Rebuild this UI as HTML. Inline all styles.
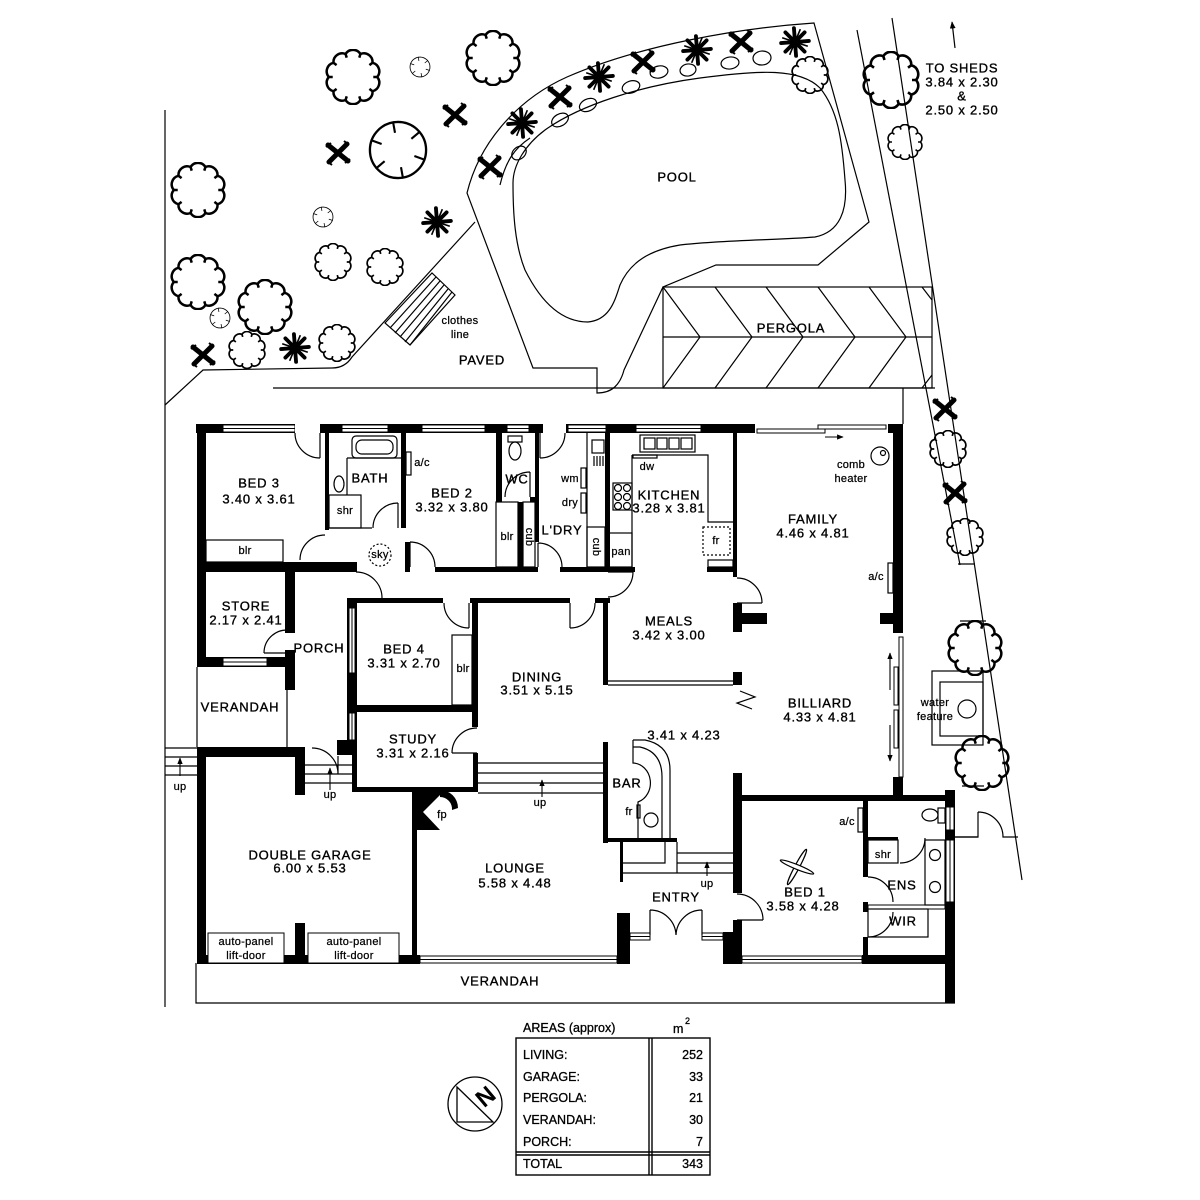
<!DOCTYPE html>
<html><head><meta charset="utf-8">
<style>
html,body{margin:0;padding:0;background:#fff}
svg{display:block}
.t{font-family:"Liberation Sans",sans-serif;font-size:13px;text-anchor:middle;dominant-baseline:central;fill:#000;stroke:#000;stroke-width:.35;letter-spacing:.8px}
.s{font-size:11px;letter-spacing:.3px;stroke-width:.25}
.w{fill:#fff;stroke:#000;stroke-width:1}
.l{fill:none;stroke:#000;stroke-width:1.2}
.tb{font-family:"Liberation Sans",sans-serif;font-size:12.5px;fill:#000;stroke:#000;stroke-width:.3;dominant-baseline:central}
</style></head>
<body>
<svg width="1200" height="1200" viewBox="0 0 1200 1200" xmlns="http://www.w3.org/2000/svg">
<defs>
<symbol id="tr" viewBox="-29 -29 58 58">
<path d="M25,0 A9,9 0 0 1 20.2,14.7 A9,9 0 0 1 7.7,23.8 A9,9 0 0 1 -7.7,23.8 A9,9 0 0 1 -20.2,14.7 A9,9 0 0 1 -25,0 A9,9 0 0 1 -20.2,-14.7 A9,9 0 0 1 -7.7,-23.8 A9,9 0 0 1 7.7,-23.8 A9,9 0 0 1 20.2,-14.7 A9,9 0 0 1 25,0 Z M25,0 L21,0 M20.2,14.7 L17,12.3 M7.7,23.8 L6.5,20 M-7.7,23.8 L-6.5,20 M-20.2,14.7 L-17,12.3 M-25,0 L-21,0 M-20.2,-14.7 L-17,-12.3 M-7.7,-23.8 L-6.5,-20 M7.7,-23.8 L6.5,-20 M20.2,-14.7 L17,-12.3" fill="none" stroke="#000" stroke-width="2.6"/>
</symbol>
<symbol id="nt" viewBox="-32 -32 64 64">
<circle r="29" fill="none" stroke="#000" stroke-width="2.4"/>
<path d="M28.2,10.3 L16.9,6.2 M5.2,29.5 L3.1,17.7 M-23,19.3 L-13.8,11.6 M-28.2,-10.3 L-16.9,-6.2 M-5.2,-29.5 L-3.1,-17.7 M23,-19.3 L13.8,-11.6" stroke="#000" stroke-width="2.2"/>
</symbol>
<symbol id="px" viewBox="-14 -14 28 28">
<path d="M-10,-8 L10,8 M-9,9 L9,-9" stroke="#000" stroke-width="5" stroke-linecap="round"/>
<path d="M-12,-6 L-7,-10 M12,6 L7,10 M-11,8 L-6,12 M11,-8 L6,-12 M-3,-3 L3,3" stroke="#000" stroke-width="2"/>
</symbol>
<symbol id="ps" viewBox="-15 -15 30 30">
<circle r="5" fill="#000"/>
<path d="M0,0 L13,-1 M0,0 L9,9 M0,0 L1,13 M0,0 L-9,9 M0,0 L-13,1 M0,0 L-9,-9 M0,0 L-1,-13 M0,0 L9,-9" stroke="#000" stroke-width="3.6" stroke-linecap="round"/>
<path d="M5,-12 L-5,12 M-12,-4 L12,4" stroke="#000" stroke-width="1.5"/>
</symbol>
<marker id="ah" viewBox="0 0 10 10" refX="9" refY="5" markerWidth="6" markerHeight="6" orient="auto-start-reverse">
<path d="M0,1 L10,5 L0,9 Z" fill="#000"/>
</marker>
</defs>

<rect width="1200" height="1200" fill="#fff"/>

<!-- SITE LINES -->
<g class="l" stroke-width="1.3">
<path d="M165,110 L165,1007"/>
<path d="M165,405 L203,370 L332,368 Q345,368 352,357 L475,222"/>
<path d="M273,388 L935,388"/>
<path d="M903,388 L903,424"/>
<!-- pool surround -->
<path d="M814,23 C740,28 640,45 567,77 C520,98 480,140 467,193 L533,368 L597,368 L597,393 C612,393 620,385 624,370 L663,287 L716,265 L818,265 L869,222 Z"/>
<path d="M500,185 C506,160 515,148 530,138"/>
<!-- pool -->
<path d="M513,183 C513,215 515,245 525,270 C540,300 560,322 588,322 C610,320 615,300 620,285 C630,262 650,250 680,245 C720,240 780,240 815,237 C840,232 848,210 845,180 C842,140 838,110 820,88 C800,68 760,70 700,78 C640,86 580,105 545,130 C525,145 513,165 513,183 Z"/>
<!-- pergola -->
<rect x="663" y="287" width="269" height="101"/>
<path d="M663,337 L932,337"/>
<path d="M663,287 L700,337 L663,388 M715,287 L752,337 L715,388 M766,287 L803,337 L766,388 M818,287 L855,337 L818,388 M869,287 L906,337 L869,388 M922,287 L932,300 M922,388 L932,375"/>
<!-- right boundary -->
<path d="M857,30 L960,565"/>
<path d="M892,18 L1022,880"/>
<path d="M958,564 L975,564 M960,621 L986,621 M962,786 L984,786"/>
<!-- water feature -->
<rect x="932" y="671" width="51" height="74"/>
<rect x="940" y="682" width="43" height="54"/>
<circle cx="967" cy="709" r="9"/>
<!-- clothes line -->
<path d="M385,323 L432,273 L455,295 L410,345 Z"/>
<path d="M390,328 L436,277 M395,333 L440,281 M400,337 L444,285 M405,342 L448,289 M410,345 L452,292"/>
<!-- outside ens door -->
<path d="M955,837 L978,837 L978,812 M978,812 A25,25 0 0 1 1003,837 L1018,837"/>
</g>
<!-- to sheds arrow -->
<line x1="955" y1="48" x2="952" y2="22" stroke="#000" stroke-width="1.2" marker-end="url(#ah)"/>

<!-- planter rocks -->
<g class="l" stroke-width="1">
<ellipse cx="519" cy="153" rx="8" ry="6" transform="rotate(-40 519 153)"/>
<ellipse cx="560" cy="120" rx="9" ry="6" transform="rotate(-30 560 120)"/>
<ellipse cx="588" cy="105" rx="9" ry="6" transform="rotate(-25 588 105)"/>
<ellipse cx="631" cy="87" rx="9" ry="6" transform="rotate(-18 631 87)"/>
<ellipse cx="659" cy="72" rx="9" ry="6" transform="rotate(-12 659 72)"/>
<ellipse cx="688" cy="70" rx="8" ry="6" transform="rotate(-10 688 70)"/>
<ellipse cx="730" cy="63" rx="9" ry="6" transform="rotate(-8 730 63)"/>
<ellipse cx="762" cy="58" rx="9" ry="7" transform="rotate(-6 762 58)"/>
</g>

<!-- TREES -->
<use href="#tr" x="325" y="49" width="56" height="56"/>
<use href="#tr" x="465" y="30" width="56" height="56"/>
<use href="#tr" x="170" y="162" width="56" height="56"/>
<use href="#tr" x="170" y="254" width="56" height="56"/>
<use href="#tr" x="237" y="279" width="56" height="56"/>
<use href="#tr" x="228" y="331" width="38" height="38"/>
<use href="#tr" x="318" y="324" width="38" height="38"/>
<use href="#tr" x="314" y="243" width="38" height="38"/>
<use href="#tr" x="366" y="248" width="38" height="38"/>
<use href="#tr" x="791" y="56" width="38" height="38"/>
<use href="#tr" x="862" y="51" width="58" height="58"/>
<use href="#tr" x="887" y="124" width="36" height="36"/>
<use href="#tr" x="929" y="430" width="38" height="38"/>
<use href="#tr" x="946" y="518" width="38" height="38"/>
<use href="#tr" x="947" y="620" width="56" height="56"/>
<use href="#tr" x="954" y="735" width="56" height="56"/>
<use href="#nt" x="367" y="119" width="62" height="62"/>
<use href="#nt" x="409" y="56" width="22" height="22"/>
<use href="#nt" x="312" y="206" width="22" height="22"/>
<use href="#nt" x="209" y="307" width="22" height="22"/>
<!-- palms -->
<use href="#px" x="441" y="101" width="28" height="28"/>
<use href="#px" x="324" y="139" width="28" height="28"/>
<use href="#ps" x="421" y="206" width="32" height="32"/>
<use href="#px" x="476" y="153" width="28" height="28"/>
<use href="#ps" x="279" y="332" width="32" height="32"/>
<use href="#px" x="189" y="341" width="28" height="28"/>
<use href="#ps" x="506" y="107" width="32" height="32"/>
<use href="#px" x="546" y="83" width="28" height="28"/>
<use href="#ps" x="583" y="61" width="32" height="32"/>
<use href="#px" x="629" y="48" width="28" height="28"/>
<use href="#ps" x="681" y="34" width="32" height="32"/>
<use href="#px" x="727" y="28" width="28" height="28"/>
<use href="#ps" x="779" y="26" width="32" height="32"/>
<use href="#px" x="931" y="395" width="28" height="28"/>
<use href="#px" x="941" y="479" width="28" height="28"/>

<!-- HOUSE WALLS -->
<g fill="#000">
<rect x="196" y="424" width="707" height="9"/>
<rect x="197" y="424" width="9" height="243"/>
<rect x="893" y="424" width="10" height="209"/>
<rect x="893" y="777" width="10" height="23"/>
<rect x="733" y="795" width="222" height="6"/>
<rect x="945" y="790" width="10" height="213"/>
<rect x="197" y="747" width="9" height="216"/>
<rect x="197" y="747" width="108" height="10"/>
<rect x="295" y="747" width="10" height="48"/>
<rect x="295" y="923" width="10" height="40"/>
<rect x="197" y="955" width="223" height="9"/>
<rect x="412" y="790" width="5" height="173"/>
<rect x="617" y="913" width="13" height="51"/>
<rect x="723" y="932" width="19" height="32"/>
<rect x="733" y="773" width="9" height="120"/>
<rect x="733" y="920" width="9" height="44"/>
<rect x="862" y="955" width="93" height="9"/>
<rect x="197" y="562" width="160" height="10"/>
<rect x="325" y="433" width="4" height="97"/>
<rect x="401" y="433" width="5" height="95"/>
<rect x="405" y="542" width="5" height="30"/>
<rect x="435" y="567" width="103" height="5"/>
<rect x="560" y="567" width="75" height="5"/>
<rect x="707" y="567" width="26" height="5"/>
<rect x="496" y="433" width="6" height="69"/>
<rect x="496" y="497" width="6" height="5"/>
<rect x="530" y="497" width="9" height="5"/>
<rect x="535" y="433" width="4" height="109"/>
<rect x="518" y="502" width="5" height="65"/>
<rect x="605" y="433" width="5" height="139"/>
<rect x="733" y="433" width="4" height="144"/>
<rect x="733" y="603" width="9" height="29"/>
<rect x="733" y="613" width="34" height="11"/>
<rect x="880" y="613" width="23" height="11"/>
<rect x="733" y="672" width="9" height="13"/>
<rect x="285" y="572" width="10" height="61"/>
<rect x="197" y="657" width="98" height="10"/>
<rect x="285" y="650" width="10" height="40"/>
<rect x="347" y="598" width="10" height="150"/>
<rect x="347" y="598" width="96" height="5"/>
<rect x="470" y="598" width="100" height="5"/>
<rect x="472" y="598" width="6" height="129"/>
<rect x="595" y="598" width="15" height="5"/>
<rect x="603" y="598" width="5" height="87"/>
<rect x="357" y="705" width="121" height="7"/>
<rect x="337" y="740" width="20" height="15"/>
<rect x="352" y="740" width="5" height="52"/>
<rect x="352" y="787" width="126" height="5"/>
<rect x="473" y="753" width="5" height="39"/>
<rect x="603" y="742" width="5" height="101"/>
<rect x="603" y="838" width="74" height="4"/>
<rect x="620" y="842" width="3" height="40"/>
<rect x="863" y="800" width="5" height="77"/>
<rect x="863" y="837" width="35" height="3"/>
<rect x="863" y="902" width="5" height="10"/>
<rect x="863" y="937" width="5" height="26"/>
<!-- fireplace -->
<path d="M412,790 L445,790 L423,812 L440,830 L412,830 Z"/>
<path d="M440,790 A18,18 0 0 1 458,808 L452,810 A12,12 0 0 0 440,797 Z"/>
</g>

<!-- WINDOWS / OPENINGS -->
<g class="w">
<rect x="223" y="425" width="72" height="7"/>
<rect x="342" y="425" width="46" height="7"/>
<rect x="422" y="425" width="63" height="7"/>
<rect x="507" y="425" width="22" height="7"/>
<rect x="568" y="425" width="38" height="7"/>
<rect x="636" y="425" width="65" height="7"/>
<rect x="223" y="658" width="44" height="8"/>
<rect x="349" y="608" width="6" height="65"/>
<rect x="349" y="713" width="6" height="27"/>
<rect x="946" y="807" width="8" height="23"/>
<rect x="946" y="840" width="8" height="62"/>
<rect x="420" y="956" width="197" height="7"/>
<rect x="742" y="956" width="120" height="7"/>
<rect x="630" y="933" width="20" height="7"/>
<rect x="702" y="933" width="21" height="7"/>
<rect x="208" y="933" width="76" height="30"/>
<rect x="308" y="933" width="91" height="30"/>
<rect x="868" y="905" width="77" height="4"/>
</g>
<g fill="#fff">
<rect x="295" y="424" width="25" height="9"/>
<rect x="543" y="424" width="23" height="9"/>
<rect x="755" y="424" width="133" height="9"/>
<rect x="893" y="633" width="10" height="144"/>
</g>
<g stroke="#000" stroke-width="1">
<path d="M223,428.5 H295 M342,428.5 H388 M422,428.5 H485 M507,428.5 H529 M568,428.5 H606 M636,428.5 H701 M223,662 H267 M352,608 V673 M352,713 V740 M950,807 V830 M950,840 V902 M420,959.5 H617 M742,959.5 H862 M630,936.5 H650 M702,936.5 H723"/>
</g>
<!-- sliding doors -->
<g class="w">
<rect x="757" y="429" width="68" height="4"/>
<rect x="818" y="425" width="68" height="4"/>
<rect x="899" y="637" width="4" height="140"/>
<rect x="894" y="667" width="4" height="38"/>
<rect x="894" y="710" width="4" height="38"/>
</g>
<g stroke="#000" stroke-width="1.1">
<line x1="825" y1="437" x2="843" y2="437" marker-end="url(#ah)"/>
<line x1="890" y1="690" x2="890" y2="653" marker-end="url(#ah)"/>
<line x1="890" y1="725" x2="890" y2="761" marker-end="url(#ah)"/>
<line x1="542" y1="797" x2="542" y2="780" marker-end="url(#ah)"/>
<line x1="330" y1="790" x2="330" y2="768" marker-end="url(#ah)"/>
<line x1="180" y1="776" x2="180" y2="758" marker-end="url(#ah)"/>
<line x1="707" y1="876" x2="707" y2="862" marker-end="url(#ah)"/>
</g>

<!-- DOORS & FIXTURES -->
<g class="l">
<path d="M320,433 L320,458 M295,433 A25,25 0 0 0 320,458"/>
<path d="M540,433 L540,458 M565,433 A25,25 0 0 1 540,458"/>
<path d="M398,503 L398,528 M398,503 A25,25 0 0 0 373,528"/>
<path d="M325,535 A25,25 0 0 0 300,560"/>
<path d="M530,497 L530,472 M505,497 A25,25 0 0 1 530,472"/>
<path d="M410,542 L410,567 M410,542 A25,25 0 0 1 435,567"/>
<path d="M538,543 L538,567 M538,543 A24,24 0 0 1 562,567"/>
<path d="M356,572 A26,26 0 0 1 382,598"/>
<path d="M469,603 L469,628 M444,603 A25,25 0 0 0 469,628"/>
<path d="M570,603 L570,628 M570,628 A25,25 0 0 0 595,603"/>
<path d="M608,572 L633,572 M633,572 A25,25 0 0 1 608,597"/>
<path d="M737,603 L762,603 M737,578 A25,25 0 0 1 762,603"/>
<path d="M287,653 L264,653 M287,630 A23,23 0 0 0 264,653"/>
<path d="M452,753 L477,753 M477,728 A25,25 0 0 0 452,753"/>
<path d="M312,748 A26,26 0 0 1 338,774 L338,756"/>
<path d="M737,920 L763,920 M737,894 A26,26 0 0 1 763,920"/>
<path d="M868,877 A25,25 0 0 1 893,902"/>
<path d="M893,912 A25,25 0 0 1 868,937"/>
<path d="M925,838 A25,25 0 0 1 900,863"/>
<path d="M650,910 L650,935 M650,910 A26,26 0 0 1 676,935 M702,910 L702,935 M702,910 A26,26 0 0 0 676,935"/>
<path d="M955,837 L978,837"/>
<!-- verandah -->
<path d="M196,963 L196,1003 L955,1003"/>
<path d="M197,667 L197,747 M287,690 L287,747"/>
<!-- steps -->
<path d="M165,748 H197 M165,757 H197 M165,766 H197 M165,775 H197"/>
<path d="M305,765 H352 M305,774 H352 M305,783 H352"/>
<path d="M478,763 H603 M478,773 H603 M478,783 H603 M478,793 H603"/>
<path d="M623,863 L665,863 L665,842 M677,842 L677,873 M677,853 L733,853 M677,863 L733,863 M623,873 L733,873"/>
<!-- bath -->
<rect x="352" y="436" width="45" height="22" rx="4"/>
<rect x="356" y="440" width="37" height="14" rx="6"/>
<path d="M347,458 L401,458 M347,458 L347,495"/>
<ellipse cx="339" cy="484" rx="5" ry="8"/>
<rect x="329" y="495" width="32" height="33"/>
<path d="M329,528 L372,528"/>
<rect x="406" y="452" width="5" height="23"/>
<!-- WC -->
<rect x="508" y="436" width="14" height="6"/>
<ellipse cx="515" cy="451" rx="6" ry="9"/>
<rect x="496" y="502" width="22" height="65"/>
<rect x="523" y="502" width="12" height="65"/>
<!-- laundry -->
<path d="M587,433 L587,567"/>
<rect x="592" y="440" width="12" height="13"/>
<path d="M594,456 V466 M597,456 V466 M600,456 V466 M603,456 V466"/>
<rect x="581" y="468" width="5" height="20"/>
<rect x="581" y="493" width="5" height="20"/>
<rect x="587" y="527" width="18" height="40"/>
<!-- kitchen -->
<rect x="640" y="435" width="55" height="17"/>
<rect x="644" y="438" width="11" height="11"/>
<rect x="657" y="438" width="10" height="11"/>
<rect x="669" y="438" width="10" height="11"/>
<rect x="681" y="438" width="11" height="11"/>
<path d="M632,455 L708,455 L708,522 L733,522 M632,455 L632,567"/>
<rect x="633" y="455" width="24" height="3"/>
<rect x="613" y="483" width="19" height="27"/>
<circle cx="618" cy="488" r="3.5"/><circle cx="627" cy="488" r="3.5"/>
<circle cx="618" cy="497" r="3.5"/><circle cx="627" cy="497" r="3.5"/>
<circle cx="618" cy="506" r="3.5"/><circle cx="627" cy="506" r="3.5"/>
<rect x="608" y="533" width="24" height="34"/>
<rect x="703" y="527" width="27" height="28" stroke-dasharray="2 2"/>
<rect x="708" y="560" width="25" height="7"/>
<!-- family -->
<circle cx="880" cy="456" r="9"/>
<circle cx="883" cy="453" r="2.5"/>
<rect x="888" y="563" width="5" height="30"/>
<!-- sky -->
<circle cx="380" cy="555" r="11" stroke-dasharray="2 2"/>
<!-- bed3/bed4 blr -->
<rect x="206" y="540" width="77" height="22"/>
<rect x="452" y="635" width="20" height="70"/>
<!-- meals -->
<path d="M608,681 L733,681 M608,685 L733,685"/>
<path d="M740,691 L755,697 L737,703 L752,709"/>
<!-- bar -->
<path d="M633,740 L645,740 Q670,745 670,770 L670,838 M662,838 L662,777 Q662,752 640,747 L633,747 M633,740 L633,763 A18,20 0 0 1 638,802 L638,838"/>
<rect x="637" y="805" width="3" height="13"/>
<circle cx="651" cy="820" r="7"/>
<!-- bed1 / ens -->
<rect x="858" y="808" width="5" height="24"/>
<rect x="868" y="840" width="30" height="23"/>
<rect x="925" y="840" width="20" height="65"/>
<circle cx="935" cy="855" r="5.5"/>
<circle cx="935" cy="887" r="5.5"/>
<ellipse cx="930" cy="815" rx="8" ry="6"/>
<rect x="938" y="808" width="7" height="15"/>
<rect x="868" y="909" width="60" height="28"/>
</g>
<g transform="translate(797,867)" fill="#fff" stroke="#000" stroke-width="1.2">
<ellipse rx="20" ry="2.3" transform="rotate(-62)"/>
<ellipse rx="18" ry="2.3" transform="rotate(22)"/>
</g>

<!-- LABELS -->
<g class="t">
<text x="677" y="177">POOL</text>
<text x="791" y="328">PERGOLA</text>
<text x="482" y="360">PAVED</text>
<text class="s" x="460" y="321">clothes</text>
<text class="s" x="460" y="335">line</text>
<text x="962" y="68">TO SHEDS</text>
<text x="962" y="82">3.84 x 2.30</text>
<text x="962" y="96">&amp;</text>
<text x="962" y="110">2.50 x 2.50</text>
<text x="259" y="483">BED 3</text>
<text x="259" y="499">3.40 x 3.61</text>
<text x="370" y="478">BATH</text>
<text class="s" x="345" y="511">shr</text>
<text class="s" x="422" y="463">a/c</text>
<text x="452" y="493">BED 2</text>
<text x="452" y="507">3.32 x 3.80</text>
<text x="517" y="479">WC</text>
<text class="s" x="570" y="479">wm</text>
<text class="s" x="570" y="503">dry</text>
<text x="562" y="530">L'DRY</text>
<text class="s" x="507" y="537">blr</text>
<text class="s" transform="translate(529,537) rotate(90)">cub</text>
<text class="s" transform="translate(596,547) rotate(90)">cub</text>
<text class="s" x="245" y="551">blr</text>
<text class="s" x="380" y="555">sky</text>
<text x="246" y="606">STORE</text>
<text x="246" y="620">2.17 x 2.41</text>
<text x="319" y="648">PORCH</text>
<text x="404" y="649">BED 4</text>
<text x="404" y="663">3.31 x 2.70</text>
<text class="s" x="463" y="669">blr</text>
<text x="240" y="707">VERANDAH</text>
<text x="537" y="677">DINING</text>
<text x="537" y="690">3.51 x 5.15</text>
<text x="413" y="739">STUDY</text>
<text x="413" y="753">3.31 x 2.16</text>
<text x="669" y="495">KITCHEN</text>
<text x="669" y="508">3.28 x 3.81</text>
<text class="s" x="647" y="467">dw</text>
<text class="s" x="716" y="541">fr</text>
<text class="s" x="621" y="552">pan</text>
<text x="813" y="519">FAMILY</text>
<text x="813" y="533">4.46 x 4.81</text>
<text class="s" x="851" y="465">comb</text>
<text class="s" x="851" y="479">heater</text>
<text class="s" x="876" y="577">a/c</text>
<text x="669" y="621">MEALS</text>
<text x="669" y="635">3.42 x 3.00</text>
<text x="820" y="703">BILLIARD</text>
<text x="820" y="717">4.33 x 4.81</text>
<text x="684" y="735">3.41 x 4.23</text>
<text x="627" y="783">BAR</text>
<text class="s" x="629" y="812">fr</text>
<text x="310" y="855">DOUBLE GARAGE</text>
<text x="310" y="868">6.00 x 5.53</text>
<text x="515" y="868">LOUNGE</text>
<text x="515" y="883">5.58 x 4.48</text>
<text class="s" x="442" y="815">fp</text>
<text class="s" x="246" y="942">auto-panel</text>
<text class="s" x="246" y="956">lift-door</text>
<text class="s" x="354" y="942">auto-panel</text>
<text class="s" x="354" y="956">lift-door</text>
<text x="500" y="981">VERANDAH</text>
<text x="676" y="897">ENTRY</text>
<text class="s" x="707" y="884">up</text>
<text class="s" x="540" y="803">up</text>
<text class="s" x="330" y="795">up</text>
<text class="s" x="180" y="787">up</text>
<text x="805" y="892">BED 1</text>
<text x="803" y="906">3.58 x 4.28</text>
<text class="s" x="847" y="822">a/c</text>
<text class="s" x="883" y="855">shr</text>
<text x="902" y="885">ENS</text>
<text x="903" y="921">WIR</text>
<text class="s" x="935" y="703">water</text>
<text class="s" x="935" y="717">feature</text>
</g>

<!-- AREAS TABLE -->
<text class="tb" x="523" y="1028">AREAS (approx)</text>
<text class="tb" x="673" y="1029">m</text>
<text class="tb" x="685" y="1021" style="font-size:9px">2</text>
<g fill="none" stroke="#000" stroke-width="1.4">
<rect x="516" y="1038" width="194" height="137"/>
<path d="M649,1038 V1175 M652,1038 V1175 M516,1152 H710 M516,1155 H710"/>
</g>
<g class="tb">
<text x="523" y="1055">LIVING:</text>
<text x="523" y="1077">GARAGE:</text>
<text x="523" y="1098">PERGOLA:</text>
<text x="523" y="1120">VERANDAH:</text>
<text x="523" y="1142">PORCH:</text>
<text x="523" y="1164">TOTAL</text>
</g>
<g class="tb" text-anchor="end">
<text x="703" y="1055">252</text>
<text x="703" y="1077">33</text>
<text x="703" y="1098">21</text>
<text x="703" y="1120">30</text>
<text x="703" y="1142">7</text>
<text x="703" y="1164">343</text>
</g>

<!-- NORTH -->
<g fill="none" stroke="#000" stroke-width="1.3">
<circle cx="475" cy="1104" r="27"/>
<path d="M457,1087 L493,1122 L457,1122 Z"/>
</g>
<text transform="translate(486,1097) rotate(-40)" style="font-family:'Liberation Sans',sans-serif;font-size:24px;font-weight:bold;text-anchor:middle;dominant-baseline:central">N</text>
</svg>
</body></html>
